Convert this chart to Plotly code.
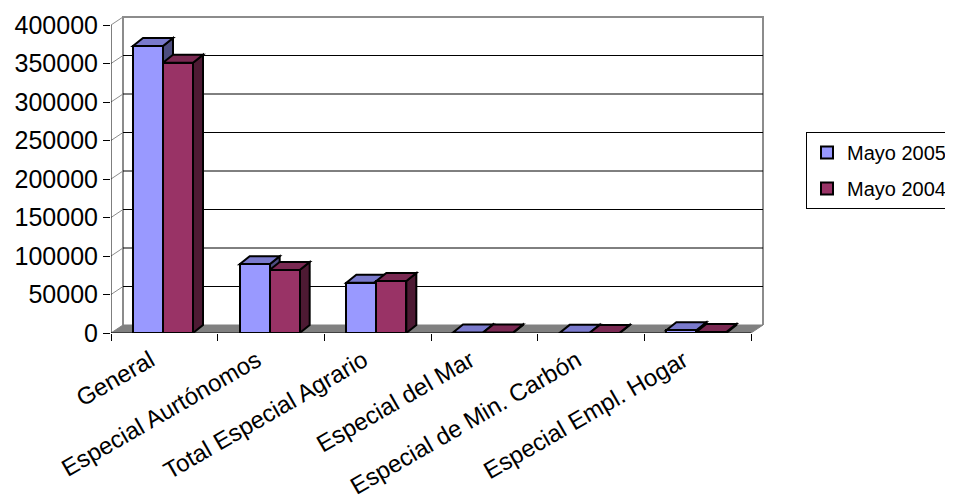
import plotly.graph_objects as go

# ---------------- data ----------------
categories = ["General", "Especial Aurtónomos", "Total Especial Agrario",
              "Especial del Mar", "Especial de Min. Carbón", "Especial Empl. Hogar"]
mayo_2005 = [372700, 89200, 65300, 600, 200, 3500]
mayo_2004 = [351000, 81800, 67500, 500, 150, 1200]
series_names = ["Mayo 2005", "Mayo 2004"]
y_ticks = [0, 50000, 100000, 150000, 200000, 250000, 300000, 350000, 400000]
y_tick_labels = [str(v) for v in y_ticks]

# ---------------- geometry (pixel -> data conversions) ----------------
BODY_OFF = 8                  # default page body margin in the html output
N = len(categories)
PX_PER_X = 640 / N            # px per category
PX_PER_Y = 308 / 400000       # px per value unit
WALL_DX = 12 / PX_PER_X
WALL_DY = 8 / PX_PER_Y
BAR_DX = 10 / PX_PER_X
BAR_DY = 8 / PX_PER_Y
BAR_GAP = 22 / PX_PER_X
BAR_W = 30 / PX_PER_X
X_MAX = 6.15
Y_MAX = 400000 + 12 / PX_PER_Y
PLOT_LEFT = 111               # target page pixels
PLOT_BOTTOM = 333
PLOT_W = X_MAX * PX_PER_X
PLOT_H = Y_MAX * PX_PER_Y
FIG_W = 953 - BODY_OFF
FIG_H = 500 - BODY_OFF

FONT = "Arial, Liberation Sans, sans-serif"
front_cols = ["#9999FF", "#993366"]
top_cols = ["#7A7ACC", "#7A2952"]
side_cols = ["#4D4D80", "#4D1A33"]
GRID_GREY = "#8C8C8C"

fig = go.Figure()

centers = [i + 0.5 for i in range(N)]
series = [mayo_2005, mayo_2004]
for s, vals in enumerate(series):
    fig.add_trace(go.Bar(
        x=centers, y=vals, name=series_names[s],
        width=BAR_W, offset=BAR_GAP + s * BAR_W - 0.5,
        marker=dict(color=front_cols[s], line=dict(color="black", width=2)),
        legendgroup=series_names[s],
    ))

# dummy trace for boundary tick axis
fig.add_trace(go.Scatter(x=[0], y=[0], xaxis="x2", yaxis="y", mode="markers",
                         marker=dict(opacity=0), showlegend=False, hoverinfo="skip"))

shapes = []
def path(pts):
    return "M " + " L ".join(f"{x},{y}" for x, y in pts) + " Z"

# back wall frame
shapes.append(dict(type="path", layer="below",
                   path=f"M {WALL_DX},{WALL_DY} L {WALL_DX},{400000 + WALL_DY} L {N + WALL_DX},{400000 + WALL_DY} L {N + WALL_DX},{WALL_DY}",
                   line=dict(color=GRID_GREY, width=2)))
# side wall top edge
shapes.append(dict(type="line", layer="below", x0=0, y0=400000, x1=WALL_DX, y1=400000 + WALL_DY,
                   line=dict(color=GRID_GREY, width=1)))
# gridlines
for v in y_ticks:
    if 0 < v < 400000:
        shapes.append(dict(type="line", layer="below", x0=WALL_DX, y0=v + WALL_DY,
                           x1=N + WALL_DX, y1=v + WALL_DY, line=dict(color="black", width=1)))
        shapes.append(dict(type="line", layer="below", x0=0, y0=v, x1=WALL_DX, y1=v + WALL_DY,
                           line=dict(color=GRID_GREY, width=1)))
# floor
shapes.append(dict(type="path", layer="below",
                   path=path([(0, 0), (N, 0), (N + WALL_DX, WALL_DY), (WALL_DX, WALL_DY)]),
                   fillcolor="#808080", line=dict(color="#808080", width=1)))
# front axes lines
shapes.append(dict(type="line", layer="below", x0=0, y0=0, x1=0, y1=400000,
                   line=dict(color="black", width=1)))
shapes.append(dict(type="line", layer="below", x0=0, y0=0, x1=N, y1=0,
                   line=dict(color="black", width=1)))

# 3D faces of bars
for i in range(N):
    for s, vals in enumerate(series):
        v = vals[i]
        x0 = i + BAR_GAP + s * BAR_W
        x1 = x0 + BAR_W
        shapes.append(dict(type="path", layer="below",
                           path=path([(x1, 0), (x1 + BAR_DX, BAR_DY), (x1 + BAR_DX, v + BAR_DY), (x1, v)]),
                           fillcolor=side_cols[s], line=dict(color="black", width=2)))
        shapes.append(dict(type="path", layer="below",
                           path=path([(x0, v), (x1, v), (x1 + BAR_DX, v + BAR_DY), (x0 + BAR_DX, v + BAR_DY)]),
                           fillcolor=top_cols[s], line=dict(color="black", width=2)))

fig.update_layout(
    width=FIG_W, height=FIG_H, autosize=False,
    margin=dict(l=PLOT_LEFT - BODY_OFF, r=FIG_W - (PLOT_LEFT - BODY_OFF + PLOT_W),
                t=PLOT_BOTTOM - BODY_OFF - PLOT_H, b=FIG_H - (PLOT_BOTTOM - BODY_OFF), pad=0,
                autoexpand=False),
    paper_bgcolor="white", plot_bgcolor="white",
    font=dict(family=FONT, color="black"),
    shapes=shapes,
    showlegend=True,
    legend=dict(x=(806 - PLOT_LEFT) / PLOT_W, y=(PLOT_BOTTOM - 132) / PLOT_H,
                xanchor="left", yanchor="top",
                bordercolor="black", borderwidth=1, bgcolor="white",
                font=dict(size=20, family=FONT, color="black"),
                tracegroupgap=7, itemwidth=30),
    xaxis=dict(range=[0, X_MAX], tickvals=centers, ticktext=categories, automargin=False,
               tickangle=-30, ticks="", ticklabelshift=-14, ticklabelstandoff=8,
               showgrid=False, zeroline=False, showline=False,
               tickfont=dict(size=24, family=FONT, color="black")),
    xaxis2=dict(range=[0, X_MAX], overlaying="x", anchor="y", side="bottom", automargin=False,
                tickvals=list(range(N + 1)), ticks="outside", ticklen=7, tickcolor="black",
                showticklabels=False, showgrid=False, zeroline=False, showline=False),
    yaxis=dict(range=[0, Y_MAX], tickvals=y_ticks, ticktext=y_tick_labels, automargin=False,
               ticks="outside", ticklen=7, tickcolor="black",
               showgrid=False, zeroline=False, showline=False,
               tickfont=dict(size=25, family=FONT, color="black")),
    bargap=0, barmode="overlay",
)

fig.write_html("out.html")
